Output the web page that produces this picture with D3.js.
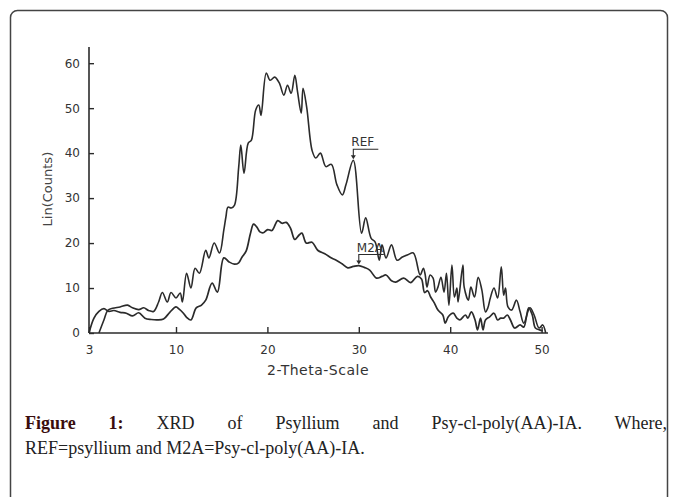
<!DOCTYPE html>
<html>
<head>
<meta charset="utf-8">
<script src="https://cdn.jsdelivr.net/npm/d3@7"></script>
<style>
  body { margin: 0; padding: 0; background: #fff; }
  #wrap { position: relative; width: 677px; height: 497px; overflow: hidden; }
  #caption { position: absolute; left: 25px; top: 411px; width: 642px; font-family: "Liberation Serif", "DejaVu Serif", serif; font-size: 18px; line-height: 25px; color: #222; }
  #caption .l1 { text-align: justify; text-align-last: justify; }
  #caption b { color: #3a0d0d; }
</style>
</head>
<body>
<div id="wrap"></div>
<script>
// 2-theta positions and counts
const refTheta = [3.8, 4.2, 4.5, 4.9, 5.5, 6.1, 6.5, 7.0, 7.4, 7.8, 8.2, 8.6, 8.9, 9.3, 9.6, 10, 10.46, 10.7, 11.16, 11.63, 12.09, 12.56, 13.25, 13.6, 14.18, 14.76, 15.23, 15.46, 15.69, 16.04, 16.39, 16.86, 17.09, 17.44, 17.9, 18.25, 18.72, 19.06, 19.3, 19.88, 20.3, 20.8, 21.3, 21.8, 22.2, 22.6, 23.0, 23.3, 23.7, 23.9, 24.3, 24.9, 25.3, 25.8, 26.4, 27.0, 27.6, 28.2, 28.6, 29.4, 30.3, 30.75, 31.34, 31.79, 32.24, 32.54, 32.98, 33.58, 34.18, 34.77, 35.37, 35.97, 36.71, 37.06, 37.26, 37.46, 37.8, 38.13, 38.4, 38.66, 38.99, 39.33, 39.59, 39.86, 40.19, 40.46, 40.73, 40.86, 41.39, 41.53, 41.99, 42.26, 42.66, 43.06, 43.46, 43.86, 44.12, 44.39, 44.79, 45.19, 45.59, 45.85, 46.05, 46.32, 46.72, 47.25, 47.65, 48.05, 48.72, 49.18, 49.72, 50.12, 50.45];
const refCounts = [0, 2.9, 5, 5.5, 5.8, 6.2, 5.6, 5.2, 5.6, 5.0, 4.8, 6.9, 9, 6.9, 9, 7.8, 8.9, 6.9, 13.3, 10, 14.4, 13.3, 18.4, 16.7, 20, 17.8, 22.9, 25.8, 28, 27.8, 28.4, 36.9, 41.8, 35.5, 42.2, 42.9, 49.6, 50.7, 48.4, 57.8, 56.2, 56.9, 55.6, 52.9, 55.1, 53.3, 57.3, 53.6, 48.9, 54.4, 50.2, 40.5, 38.9, 40, 37, 37.5, 33, 30.7, 33, 38.4, 22.2, 25.6, 21.1, 20.2, 16.2, 19.6, 16.7, 19.6, 16.2, 16.9, 17.4, 17.8, 12.9, 14.4, 13, 10.2, 12.9, 12.2, 9.1, 10.2, 12.4, 9.1, 13.3, 6.2, 15.1, 8, 10, 6.9, 15.1, 10.2, 7.3, 10.2, 8, 12.4, 9.6, 4.7, 5.6, 7.8, 10, 7.8, 14.7, 8.4, 10, 5.8, 5.1, 7.3, 4.7, 2.2, 5.6, 4, 1.1, 1.8, 0];

const m2aTheta = [3.0, 3.4, 3.8, 4.2, 4.6, 5.0, 5.5, 6.0, 6.5, 7.0, 7.5, 8.0, 8.5, 9.0, 9.5, 10.0, 10.35, 10.81, 11.16, 11.63, 12.21, 12.79, 13.25, 13.95, 14.53, 15.23, 15.81, 16.39, 16.86, 17.2, 17.67, 18.13, 18.48, 18.83, 19.18, 19.56, 20.03, 20.5, 21.13, 21.6, 22.06, 22.53, 23.0, 23.47, 23.78, 24.25, 24.88, 25.5, 26.28, 27.07, 27.53, 28.16, 28.79, 29.4, 30.0, 30.6, 31.19, 31.94, 32.54, 32.98, 33.58, 34.03, 34.92, 35.67, 36.41, 36.86, 37.2, 37.53, 37.86, 38.26, 38.66, 39.19, 39.46, 39.79, 40.33, 40.73, 41.06, 41.66, 41.93, 42.32, 42.72, 42.99, 43.32, 43.59, 43.86, 44.32, 44.79, 45.19, 45.52, 45.85, 46.25, 46.59, 47.05, 47.65, 48.05, 48.58, 48.98, 49.32, 49.78, 50.12];
const m2aCounts = [0, 3.3, 4.8, 5.4, 4.8, 5.0, 4.6, 4.4, 3.8, 4.5, 3.3, 3.0, 2.9, 3.1, 4.6, 5.8, 5.3, 4.4, 3.5, 2.9, 5.6, 6.2, 7.3, 11.1, 9.1, 16.7, 15.8, 15.3, 15.6, 16.8, 18.2, 22, 24.2, 23.6, 22.5, 22.3, 23, 22.8, 25, 24.4, 24.6, 23.3, 20.8, 21.8, 22.2, 20, 20.2, 18.4, 17.6, 16.6, 16.2, 15.4, 14.5, 14.8, 15.0, 14.6, 14, 12.2, 12.6, 12.9, 11.6, 11.3, 12.2, 11.2, 12.6, 12.0, 9.0, 9.4, 8.0, 6.7, 5.1, 4, 2.2, 3.6, 4.4, 3.3, 2.9, 4.0, 3.3, 4.7, 2.9, 0.7, 3.3, 0.7, 2.9, 3.6, 4.4, 2.9, 3.3, 3.3, 4.0, 2.9, 1.1, 1.8, 1.3, 5.6, 4.0, 1.1, 0.7, 0.5];

const xTicks = [3, 10, 20, 30, 40, 50];
const yTicks = [0, 10, 20, 30, 40, 50, 60];
const labels = [
  { name: 'REF', theta: 29.4, count: 38.4 },
  { name: 'M2A', theta: 30.0, count: 15.0 }
];

const W = 677, H = 497;
const svg = d3.select('#wrap').append('svg').attr('width', W).attr('height', H)
  .style('position', 'absolute').style('left', 0).style('top', 0);

// frame around figure + caption
svg.append('rect')
  .attr('x', 10.5).attr('y', 10.5).attr('width', 657).attr('height', 520)
  .attr('rx', 7).attr('fill', 'none').attr('stroke', '#444').attr('stroke-width', 1.5);

// the scan's axis starts at 3 right on the y axis
const x = d3.scaleLinear().domain([3, 10, 50.7]).range([89, 176, 548]);
const y = d3.scaleLinear().domain([0, 63.6]).range([333, 47]);

const axisFont = '"DejaVu Sans", sans-serif';
const ink = '#2b2b2b';

const xAxis = svg.append('g').attr('transform', `translate(0,${y(0)})`)
  .call(d3.axisBottom(x).tickValues(xTicks).tickSize(-6).tickPadding(12).tickFormat(d3.format('d')));
const yAxis = svg.append('g').attr('transform', `translate(${x(3)},0)`)
  .call(d3.axisLeft(y).tickValues(yTicks).tickSize(-5).tickPadding(9).tickFormat(d3.format('d')));

[xAxis, yAxis].forEach(g => {
  g.select('.domain').attr('stroke', ink).attr('stroke-width', 1.6);
  g.selectAll('.tick line').attr('stroke', ink).attr('stroke-width', 1.4);
  g.selectAll('.tick text').attr('fill', '#333').style('font-family', axisFont).style('font-size', '12px');
});
xAxis.select('.domain').attr('d', `M${x(3)},0H${x(50.7)}`);
yAxis.select('.domain').attr('d', `M0,${y(0)}V${y(63.6)}`);

svg.append('text')
  .attr('x', 318).attr('y', 375).attr('text-anchor', 'middle')
  .style('font-family', axisFont).style('font-size', '14px').style('letter-spacing', '0.5px')
  .attr('fill', '#333').text('2-Theta-Scale');

svg.append('text')
  .attr('transform', `translate(52,${y(32)}) rotate(-90)`).attr('text-anchor', 'middle')
  .style('font-family', axisFont).style('font-size', '13px')
  .attr('fill', '#444').text('Lin(Counts)');

const line = d3.line().x(d => x(d[0])).y(d => y(d[1])).curve(d3.curveCatmullRom.alpha(0.5));
const refData = d3.zip(refTheta, refCounts);
const m2aData = d3.zip(m2aTheta, m2aCounts);

svg.append('path').datum(m2aData).attr('d', line)
  .attr('fill', 'none').attr('stroke', ink).attr('stroke-width', 1.7);
svg.append('path').datum(refData).attr('d', line)
  .attr('fill', 'none').attr('stroke', ink).attr('stroke-width', 1.6);

// REF / M2A labels with hooked arrows
labels.forEach(l => {
  const px = x(l.theta), py = y(l.count);
  const g = svg.append('g');
  const barY = py - 11;
  g.append('text').attr('x', px - 2).attr('y', barY - 3)
    .style('font-family', axisFont).style('font-size', '12px').attr('fill', '#333').text(l.name);
  g.append('path').attr('d', `M${px + 25},${barY}H${px}V${py - 3}`)
    .attr('fill', 'none').attr('stroke', ink).attr('stroke-width', 1.1);
  g.append('path').attr('d', `M${px - 2.5},${py - 5}L${px + 2.5},${py - 5}L${px},${py - 1}Z`).attr('fill', ink);
});

d3.select('#wrap').append('div').attr('id', 'caption').html(
  '<div class="l1"><b>Figure 1:</b> XRD of Psyllium and Psy-cl-poly(AA)-IA. Where,</div>' +
  '<div>REF=psyllium and M2A=Psy-cl-poly(AA)-IA.</div>'
);
</script>
</body>
</html>
